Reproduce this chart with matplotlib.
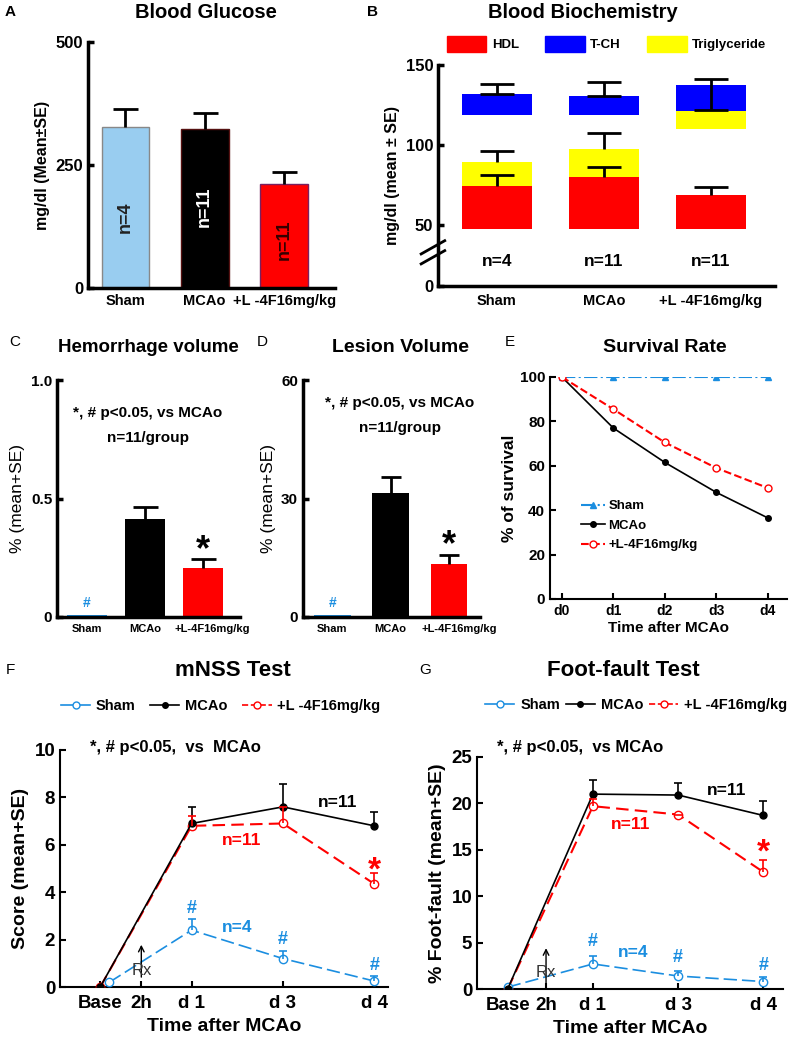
import numpy as np
import matplotlib.pyplot as plt
import matplotlib.transforms as mtransforms
from matplotlib.patches import Patch
from matplotlib.lines import Line2D

plt.rcParams['font.family'] = ['Liberation Sans', 'DejaVu Sans']
plt.rcParams['font.weight'] = 'bold'
plt.rcParams['axes.labelweight'] = 'bold'

# ---- data ----
groups = ['Sham', 'MCAo', '+L -4F16mg/kg']
groups_cd = ['Sham', 'MCAo', '+L-4F16mg/kg']
group_n = ['n=4', 'n=11', 'n=11']

glucose = [327, 323, 211]
glucose_se = [37, 33, 25]

hdl = [74.4, 80.0, 68.8]
hdl_se = [6.9, 6.3, 5.0]
tg_bottom = [74.4, 80.0, 110.0]
tg_top = [89.4, 97.5, 121.3]
tg_se = [6.9, 10.0, 0.0]
tch_bottom = [118.8, 118.8, 121.3]
tch_top = [131.9, 130.6, 137.5]
tch_se_lo = [0.0, 0.0, 15.5]
tch_se_hi = [6.1, 8.8, 3.8]

hemorrhage = [0.01, 0.413, 0.207]
hemorrhage_se = [0.0, 0.05, 0.038]
lesion = [0.6, 31.4, 13.4]
lesion_se = [0.0, 4.0, 2.3]

days = ['d0', 'd1', 'd2', 'd3', 'd4']
surv_sham = [100, 100, 100, 100, 100]
surv_mcao = [100, 77, 61.5, 48, 36.5]
surv_l4f = [100, 85.5, 70.5, 59, 50]

time_labels = ['Base', '2h', 'd 1', 'd 3', 'd 4']
time_ticks = [0, 0.45, 1, 2, 3]
time_pos = [0, 1, 2, 3]
sham_pos_f = [0.1, 1, 2, 3]

mnss_mcao = [0, 6.9, 7.6, 6.8]
mnss_mcao_se = [0, 0.7, 0.95, 0.6]
mnss_l4f = [0, 6.8, 6.9, 4.35]
mnss_l4f_se = [0, 0.4, 0.7, 0.45]
mnss_sham = [0.2, 2.4, 1.2, 0.25]
mnss_sham_se = [0, 0.47, 0.3, 0.2]

ff_mcao = [0, 21.0, 20.9, 18.7]
ff_mcao_se = [0, 1.5, 1.3, 1.6]
ff_l4f = [0, 19.7, 18.8, 12.6]
ff_l4f_se = [0, 0.8, 0, 1.3]
ff_sham = [0.2, 2.7, 1.4, 0.8]
ff_sham_se = [0, 0.9, 0.5, 0.5]

BLUE = '#1b8ee0'
RED = '#ff0000'

W, H = 800, 1048
fig = plt.figure(figsize=(8, 10.48), dpi=100)


def add_ax(x0, y0, x1, y1):
    return fig.add_axes([x0 / W, 1 - y1 / H, (x1 - x0) / W, (y1 - y0) / H])


def label(x, y, s, **kw):
    kw.setdefault('ha', 'center')
    fig.text(x / W, 1 - y / H, s, va='center', **kw)


def style(ax, lw=2.5):
    for s in ['top', 'right']:
        ax.spines[s].set_visible(False)
    for s in ['left', 'bottom']:
        ax.spines[s].set_linewidth(lw)
    ax.tick_params(direction='in', width=lw, length=4, labelsize=11)


def up_err(ax, x, y, se, color='k', cap=8, lw=2):
    eb = ax.errorbar(x, y, yerr=[np.zeros(len(se)), se], fmt='none', ecolor=color,
                     capsize=cap, elinewidth=lw, capthick=lw, zorder=5)
    eb[1][0].set_visible(False)   # only the upper cap (mean+SE)


def shift_last_label(ax, dx_pts):
    lab = ax.get_xticklabels()[-1]
    lab.set_transform(lab.get_transform() +
                      mtransforms.ScaledTranslation(dx_pts / 72, 0, fig.dpi_scale_trans))


x3 = np.arange(3)

# ---- A: blood glucose ----
axA = add_ax(88, 42, 335, 288)
style(axA)
axA.tick_params(axis='y', labelsize=12)
axA.bar(x3, glucose, width=0.6, color=['#99cdf0', 'black', RED],
        edgecolor=['#888888', '#551111', '#7a2060'], linewidth=1)
up_err(axA, x3, glucose, glucose_se, cap=9)
axA.set_xlim(-0.47, 2.64)
axA.set_ylim(0, 500)
axA.set_yticks([0, 250, 500])
axA.set_xticks(x3)
axA.set_xticklabels(groups, fontsize=10.5)
axA.tick_params(axis='x', length=0, pad=4)
axA.set_ylabel('mg/dl (Mean±SE)', fontsize=11.5, labelpad=4)
for xi, yv, s, c in zip(x3, [144, 165, 98], group_n, ['#222222', 'white', '#330000']):
    axA.text(xi, yv, s, rotation=90, ha='center', va='center', color=c, fontsize=13)
label(10, 12, 'A', fontsize=11)
label(206, 12, 'Blood Glucose', fontsize=14.5)

# ---- B: blood biochemistry (broken axis) ----
K = 0.7625


def fwd(y):
    y = np.asarray(y, dtype=float)
    return np.where(y < 50, y * K, 50 * K + (y - 50))


def inv(t):
    t = np.asarray(t, dtype=float)
    return np.where(t < 50 * K, t / K, 50 + (t - 50 * K))


axB = add_ax(438, 65, 775, 286)
style(axB)
axB.tick_params(axis='y', labelsize=12)
axB.set_yscale('function', functions=(fwd, inv))
base = 47
bw = 0.66
axB.bar(x3, np.array(hdl) - base, bottom=base, width=bw, color=RED)
axB.bar(x3, np.array(tg_top) - np.array(tg_bottom), bottom=tg_bottom, width=bw, color='#ffff00')
axB.bar(x3, np.array(tch_top) - np.array(tch_bottom), bottom=tch_bottom, width=bw, color='#0000ff')
up_err(axB, x3[:2], tg_top[:2], tg_se[:2], cap=12)
up_err(axB, x3, hdl, hdl_se, cap=12)
axB.errorbar(x3, tch_top, yerr=[tch_se_lo, tch_se_hi], fmt='none', ecolor='k',
             capsize=12, elinewidth=2, capthick=2, zorder=5)
axB.set_xlim(-0.55, 2.6)
axB.set_ylim(0, 150)
axB.set_yticks([0, 50, 100, 150])
axB.set_xticks(x3)
axB.set_xticklabels(groups, fontsize=10.5)
axB.tick_params(axis='x', length=0, pad=6)
axB.set_ylabel('mg/dl (mean ± SE)', fontsize=11.5, labelpad=4)
for xi, s in zip(x3, group_n):
    axB.text(xi, 20, s, ha='center', va='center', fontsize=12.5)
for dy in (0.13, 0.175):
    axB.plot([-0.05, 0.02], [dy - 0.03, dy + 0.03], transform=axB.transAxes,
             color='k', lw=2, clip_on=False)
axB.legend(handles=[Patch(color=RED, label='HDL'), Patch(color='#0000ff', label='T-CH'),
                    Patch(color='#ffff00', label='Triglyceride')],
           ncol=3, loc='center', bbox_to_anchor=(0.5, 1.095), frameon=False,
           fontsize=9.5, handlelength=3, handleheight=1.4, columnspacing=2.0, handletextpad=0.4)
label(373, 12, 'B', fontsize=11)
label(583, 13, 'Blood Biochemistry', fontsize=14.5)

# ---- C: hemorrhage volume ----
axC = add_ax(57, 380, 240, 617)
style(axC)
axC.bar(x3, hemorrhage, width=0.69, color=[BLUE, 'black', RED])
up_err(axC, x3[1:], hemorrhage[1:], hemorrhage_se[1:], cap=9)
axC.set_xlim(-0.52, 2.64)
axC.set_ylim(0, 1.0)
axC.set_yticks([0, 0.5, 1.0])
axC.set_yticklabels(['0', '0.5', '1.0'])
axC.set_xticks(x3)
axC.set_xticklabels(groups_cd, fontsize=8)
axC.tick_params(axis='x', length=0, pad=5)
shift_last_label(axC, 7)
axC.set_ylabel('% (mean+SE)', fontsize=12.5, fontweight='normal', labelpad=4)
axC.text(0, 0.06, '#', color=BLUE, ha='center', va='center', fontsize=10)
axC.text(2, 0.28, '*', ha='center', va='center', fontsize=26)
label(148, 413, '*, # p<0.05, vs MCAo', fontsize=11)
label(148, 438, 'n=11/group', fontsize=11)
label(15, 342, 'C', fontsize=11, fontweight='normal')
label(148, 347, 'Hemorrhage volume', fontsize=13.5)

# ---- D: lesion volume ----
axD = add_ax(303, 380, 480, 617)
style(axD)
axD.bar(x3, lesion, width=0.63, color=[BLUE, 'black', RED])
up_err(axD, x3[1:], lesion[1:], lesion_se[1:], cap=7)
axD.set_xlim(-0.5, 2.53)
axD.set_ylim(0, 60)
axD.set_yticks([0, 30, 60])
axD.set_xticks(x3)
axD.set_xticklabels(groups_cd, fontsize=8)
axD.tick_params(axis='x', length=0, pad=5)
shift_last_label(axD, 7)
axD.set_ylabel('% (mean+SE)', fontsize=12.5, fontweight='normal', labelpad=4)
axD.text(0, 3.6, '#', color=BLUE, ha='center', va='center', fontsize=10)
axD.text(2, 18.0, '*', ha='center', va='center', fontsize=26)
label(400, 403, '*, # p<0.05, vs MCAo', fontsize=11)
label(400, 428, 'n=11/group', fontsize=11)
label(262, 342, 'D', fontsize=11, fontweight='normal')
label(400, 347, 'Lesion Volume', fontsize=14)

# ---- E: survival ----
axE = add_ax(550, 377, 787, 599)
style(axE, lw=1.5)
xd = np.arange(len(days))
axE.plot(xd, surv_sham, '-.', color=BLUE, marker='^', ms=4, lw=1.5, label='Sham')
axE.plot(xd, surv_mcao, '-', color='black', marker='o', ms=4, lw=1.2, label='MCAo')
axE.plot(xd, surv_l4f, '--', color=RED, marker='o', ms=5, mfc='white', lw=1.5, label='+L-4F16mg/kg')
axE.set_xlim(-0.23, 4.37)
axE.set_ylim(0, 100)
axE.set_yticks(range(0, 101, 20))
axE.set_xticks(xd)
axE.set_xticklabels(days, fontsize=10)
axE.tick_params(axis='y', labelsize=11)
axE.set_xlabel('Time after MCAo', fontsize=11, labelpad=2)
axE.set_ylabel('% of survival', fontsize=12.5, labelpad=2)
axE.legend(loc='center left', bbox_to_anchor=(0.08, 0.33), frameon=False, fontsize=9.5,
           handlelength=1.8, handletextpad=0.3, labelspacing=0.55)
label(510, 342, 'E', fontsize=11, fontweight='normal')
label(665, 347, 'Survival Rate', fontsize=14)


# ---- F / G: behaviour tests ----
def behaviour(ax, mcao, mcao_se, l4f, l4f_se, sham, sham_se, sham_x, ymax, ystep):
    style(ax, lw=1.5)
    ax.plot(time_pos, mcao, '-', color='black', marker='o', ms=5, lw=1.2, zorder=4)
    ax.plot(time_pos, l4f, '--', color=RED, marker='o', ms=6, mfc='white', lw=1.5,
            dashes=(6, 3), zorder=3)
    ax.plot(sham_x, sham, '--', color=BLUE, marker='o', ms=6, mfc='white', lw=1.2,
            dashes=(8, 3), zorder=3)
    up_err(ax, time_pos[1:], mcao[1:], mcao_se[1:], cap=3, lw=1.2)
    up_err(ax, time_pos[1:], l4f[1:], l4f_se[1:], color=RED, cap=3, lw=1.2)
    up_err(ax, sham_x[1:], sham[1:], sham_se[1:], color=BLUE, cap=3, lw=1.2)
    ax.set_ylim(0, ymax)
    ax.set_yticks(np.arange(0, ymax + 0.1, ystep))
    ax.set_xticks(time_ticks)
    ax.set_xticklabels(time_labels, fontsize=13.5)
    ax.tick_params(axis='x', pad=6)
    ax.tick_params(axis='y', labelsize=13.5)
    ax.set_xlabel('Time after MCAo', fontsize=14, labelpad=4)


def behaviour_legend(ax, anchor, colsp):
    handles = [Line2D([], [], color=BLUE, marker='o', ms=5, mfc='white', lw=1.2),
               Line2D([], [], color='black', marker='o', ms=4, lw=1.2),
               Line2D([], [], color=RED, marker='o', ms=5, mfc='white', lw=1.2, ls='--')]
    ax.legend(handles, ['Sham', 'MCAo', '+L -4F16mg/kg'], ncol=3, loc='center',
              bbox_to_anchor=anchor, frameon=False, fontsize=10.5, handlelength=2.0,
              handletextpad=0.4, columnspacing=colsp, borderpad=0.2)


axF = add_ax(60, 750, 388, 987)
behaviour(axF, mnss_mcao, mnss_mcao_se, mnss_l4f, mnss_l4f_se,
          mnss_sham, mnss_sham_se, sham_pos_f, 10, 2)
axF.set_xlim(-0.44, 3.15)
axF.set_ylabel('Score (mean+SE)', fontsize=14, labelpad=4)
behaviour_legend(axF, (0.49, 1.186), 1.0)
axF.annotate('', xy=(0.45, 1.9), xytext=(0.45, 0.3),
             arrowprops=dict(arrowstyle='->', color='k', lw=1))
axF.text(0.45, 0.7, 'Rx', ha='center', va='center', fontsize=12, fontweight='normal', color='#333333')
for xi, yv in zip(time_pos[1:], [3.3, 2.0, 0.9]):
    axF.text(xi, yv, '#', color=BLUE, ha='center', va='center', fontsize=13)
axF.text(1.5, 2.5, 'n=4', color=BLUE, ha='center', va='center', fontsize=12.5)
axF.text(2.6, 7.8, 'n=11', color='black', ha='center', va='center', fontsize=12.5)
axF.text(1.55, 6.2, 'n=11', color=RED, ha='center', va='center', fontsize=12.5)
axF.text(3, 4.9, '*', color=RED, ha='center', va='center', fontsize=24)
axF.text(0.82, 10.1, '*, # p<0.05,  vs  MCAo', ha='center', va='center', fontsize=12)
label(10, 670, 'F', fontsize=11, fontweight='normal')
label(233, 670, 'mNSS Test', fontsize=16)

axG = add_ax(477, 757, 783, 989)
behaviour(axG, ff_mcao, ff_mcao_se, ff_l4f, ff_l4f_se,
          ff_sham, ff_sham_se, time_pos, 25, 5)
axG.set_xlim(-0.36, 3.23)
axG.set_ylabel('% Foot-fault (mean+SE)', fontsize=14, labelpad=4)
behaviour_legend(axG, (0.52, 1.224), 0.4)
axG.annotate('', xy=(0.45, 4.7), xytext=(0.45, 0),
             arrowprops=dict(arrowstyle='->', color='k', lw=1))
axG.text(0.45, 1.8, 'Rx', ha='center', va='center', fontsize=12, fontweight='normal', color='#333333')
for xi, yv in zip(time_pos[1:], [5.1, 3.4, 2.5]):
    axG.text(xi, yv, '#', color=BLUE, ha='center', va='center', fontsize=13)
axG.text(1.47, 3.9, 'n=4', color=BLUE, ha='center', va='center', fontsize=12.5)
axG.text(2.57, 21.4, 'n=11', color='black', ha='center', va='center', fontsize=12.5)
axG.text(1.44, 17.7, 'n=11', color=RED, ha='center', va='center', fontsize=12.5)
axG.text(3, 14.6, '*', color=RED, ha='center', va='center', fontsize=24)
axG.text(0.85, 26.0, '*, # p<0.05,  vs MCAo', ha='center', va='center', fontsize=12,
         clip_on=False)
label(425, 670, 'G', fontsize=11, fontweight='normal')
label(623, 670, 'Foot-fault Test', fontsize=16)

fig.savefig('out.png', dpi=100)
